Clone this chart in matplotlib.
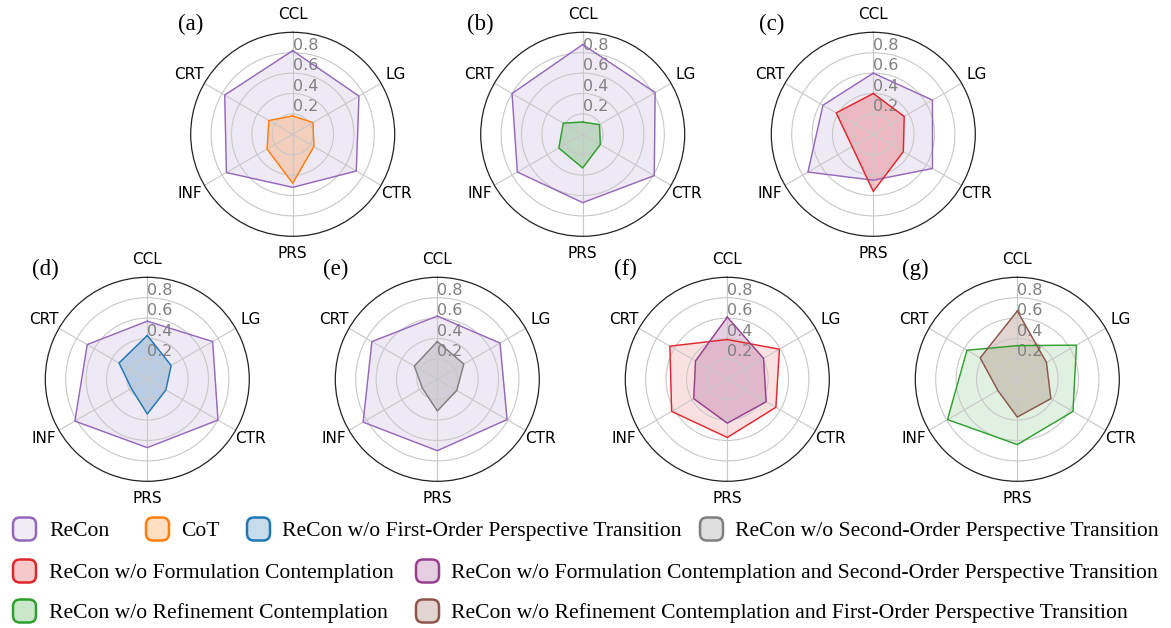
import numpy as np
import matplotlib.pyplot as plt
from matplotlib.colors import to_rgba
from matplotlib.patches import FancyBboxPatch

# axes of every radar, clockwise from the top
categories = ['CCL', 'LG', 'CTR', 'PRS', 'INF', 'CRT']
r_ticks = [0.2, 0.4, 0.6, 0.8]
panel_names = ['(a)', '(b)', '(c)', '(d)', '(e)', '(f)', '(g)']

# values (CCL, LG, CTR, PRS, INF, CRT)
a_recon = [0.82, 0.75, 0.72, 0.52, 0.75, 0.77]
a_cot = [0.18, 0.23, 0.24, 0.48, 0.29, 0.27]
b_recon = [0.88, 0.82, 0.81, 0.67, 0.74, 0.80]
b_refine = [0.12, 0.19, 0.20, 0.33, 0.27, 0.22]
c_recon = [0.60, 0.67, 0.67, 0.45, 0.74, 0.57]
c_formul = [0.40, 0.35, 0.34, 0.56, 0.24, 0.42]
d_recon = [0.57, 0.74, 0.80, 0.67, 0.82, 0.68]
d_first = [0.43, 0.27, 0.21, 0.34, 0.18, 0.32]
e_recon = [0.62, 0.71, 0.79, 0.70, 0.84, 0.74]
e_second = [0.37, 0.30, 0.22, 0.31, 0.17, 0.26]
f_formul = [0.39, 0.59, 0.55, 0.57, 0.63, 0.65]
f_formul_second = [0.61, 0.41, 0.44, 0.43, 0.38, 0.36]
g_refine = [0.33, 0.67, 0.63, 0.64, 0.79, 0.57]
g_refine_first = [0.67, 0.33, 0.38, 0.37, 0.22, 0.42]

labels = {
    'recon': 'ReCon',
    'cot': 'CoT',
    'first': 'ReCon w/o First-Order Perspective Transition',
    'second': 'ReCon w/o Second-Order Perspective Transition',
    'formul': 'ReCon w/o Formulation Contemplation',
    'formul_second': 'ReCon w/o Formulation Contemplation and Second-Order Perspective Transition',
    'refine': 'ReCon w/o Refinement Contemplation',
    'refine_first': 'ReCon w/o Refinement Contemplation and First-Order Perspective Transition',
}
colors = {
    'recon': '#9467bd', 'cot': '#ff7f0e', 'first': '#1f77b4', 'second': '#7f7f7f',
    'formul': '#e0262b', 'formul_second': '#983f8c', 'refine': '#2ca02c', 'refine_first': '#8c564b',
}

panels = [
    [('recon', a_recon), ('cot', a_cot)],
    [('recon', b_recon), ('refine', b_refine)],
    [('recon', c_recon), ('formul', c_formul)],
    [('recon', d_recon), ('first', d_first)],
    [('recon', e_recon), ('second', e_second)],
    [('formul', f_formul), ('formul_second', f_formul_second)],
    [('refine', g_refine), ('refine_first', g_refine_first)],
]

W, H = 1171, 628
fig = plt.figure(figsize=(W / 100, H / 100), dpi=100)

# centres of the radars in pixels, radius 102 px
centres = [(292.7, 134.3), (582.7, 134.3), (873.3, 134.3),
           (147.3, 379.3), (437.3, 379.3), (727.3, 379.3), (1017.3, 379.3)]
rad = 102

angles = np.linspace(0, 2 * np.pi, len(categories), endpoint=False)
series_alpha = [0.14, 0.25]   # first series lighter, second on top

for name, (cx, cy), series in zip(panel_names, centres, panels):
    ax = fig.add_axes([(cx - rad) / W, (H - cy - rad) / H, 2 * rad / W, 2 * rad / H],
                      projection='polar')
    ax.set_theta_offset(np.pi / 2)
    ax.set_theta_direction(-1)
    for (key, vals), al in zip(series, series_alpha):
        v = np.append(vals, vals[0])
        t = np.append(angles, angles[0])
        ax.plot(t, v, color=colors[key], linewidth=1)
        ax.fill(t, v, color=colors[key], alpha=al)
    ax.set_ylim(0, 1)
    ax.set_xticks(angles)
    ax.set_xticklabels(categories, fontsize=11)
    ax.tick_params(axis='x', pad=2)
    ax.set_yticks(r_ticks)
    ax.set_yticklabels([str(x) for x in r_ticks], fontsize=11.5, color='gray')
    ax.set_rlabel_position(0)
    ax.grid(color='#c8c8c8', linewidth=0.8)
    ax.spines['polar'].set_linewidth(0.9)
    ax.spines['polar'].set_color('#222222')
    ax.text(0, 1.04, name, transform=ax.transAxes, ha='center', va='center',
            fontsize=16.5, family='Liberation Serif')

# legend, three rows drawn by hand: (key, handle x in px, text x in px)
legend_rows = [
    (529.0, [('recon', 11, 49), ('cot', 144, 181), ('first', 245, 282), ('second', 698, 735)]),
    (571.0, [('formul', 11, 49), ('formul_second', 414, 451)]),
    (611.0, [('refine', 11, 49), ('refine_first', 414, 451)]),
]
for ry, entries in legend_rows:
    for key, hx, tx in entries:
        al = 0.13 if key == 'recon' else 0.25
        box = FancyBboxPatch(((hx + 2) / W, (H - ry - 11.5) / H), 23 / W, 23 / H,
                             boxstyle='round,pad=0,rounding_size=0.006',
                             transform=fig.transFigure, mutation_aspect=W / H,
                             facecolor=to_rgba(colors[key], al),
                             edgecolor=colors[key], linewidth=1.8)
        fig.add_artist(box)
        fig.text(tx / W, (H - ry) / H, labels[key], ha='left', va='center_baseline',
                 fontsize=15.6, family='Liberation Serif')

fig.savefig('out.png', dpi=100)
